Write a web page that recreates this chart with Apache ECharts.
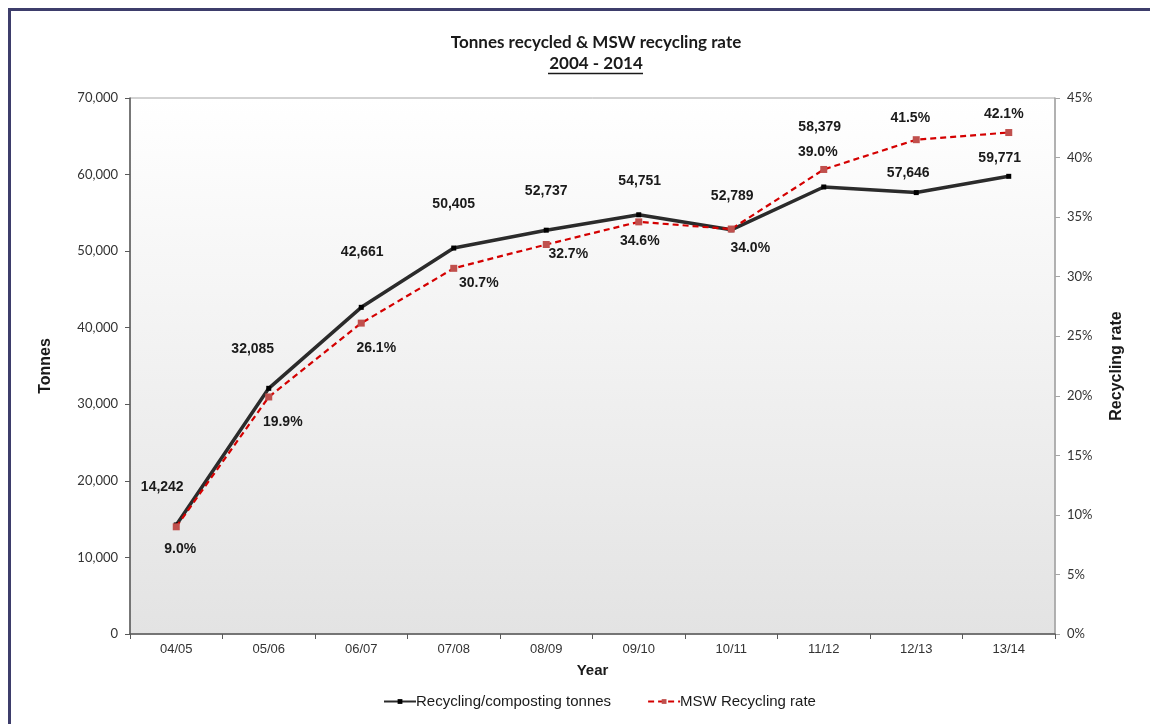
<!DOCTYPE html>
<html>
<head>
<meta charset="utf-8">
<script src="https://cdn.jsdelivr.net/npm/echarts@6/dist/echarts.min.js"></script>
<style>
  html, body { margin: 0; padding: 0; background: #ffffff; overflow: hidden; }
  #frame { position: absolute; left: 8px; top: 8px; width: 1160px; height: 740px; border: 3px solid #3d3d6b; box-sizing: border-box; }
  #chart { position: absolute; left: 0; top: 0; width: 1150px; height: 724px; }
</style>
</head>
<body>
<div id="frame"></div>
<div id="chart"></div>
<script>
// ---- Data ----
const years = ['04/05', '05/06', '06/07', '07/08', '08/09', '09/10', '10/11', '11/12', '12/13', '13/14'];
const tonnes = [14242, 32085, 42661, 50405, 52737, 54751, 52789, 58379, 57646, 59771];
const recyclingRate = [9.0, 19.9, 26.1, 30.7, 32.7, 34.6, 34.0, 39.0, 41.5, 42.1];

// label placement (styling, pixels relative to point)
const tonneLabelOffsets = [[-14,-38],[-16,-39],[1,-55],[0,-44],[0,-39],[1,-34],[1,-34],[-4,-60],[-8,-19],[-9,-18]];
const rateLabelOffsets = [[4,22],[14,25],[15,25],[25,15],[22,10],[1,19],[19,19],[-6,-17],[-6,-22],[-5,-18]];

const chart = echarts.init(document.getElementById('chart'), null, { renderer: 'canvas' });

const labelFont = { fontFamily: 'Liberation Sans, Arial', fontWeight: 'bold', fontSize: 14, color: '#1a1a1a' };

const tonneData = tonnes.map((v, i) => ({
  value: v,
  label: Object.assign({ show: true, position: 'inside', align: 'center', verticalAlign: 'middle',
    offset: tonneLabelOffsets[i], formatter: p => p.value.toLocaleString('en-US') }, labelFont)
}));
const rateData = recyclingRate.map((v, i) => ({
  value: v,
  label: Object.assign({ show: true, position: 'inside', align: 'center', verticalAlign: 'middle',
    offset: rateLabelOffsets[i], formatter: p => p.value.toFixed(1) + '%' }, labelFont)
}));

const option = {
  animation: false,
  backgroundColor: 'transparent',
  textStyle: { fontFamily: 'Lato, Open Sans, sans-serif' },
  title: {
    text: 'Tonnes recycled & MSW recycling rate\n2004 - 2014',
    left: 591,
    top: 27,
    textAlign: 'center',
    textStyle: { fontFamily: 'Lato', fontWeight: 'bold', fontSize: 17, lineHeight: 21, color: '#1a1a1a' }
  },
  graphic: [{
    type: 'line', shape: { x1: 548, y1: 73.5, x2: 643, y2: 73.5 },
    style: { stroke: '#1a1a1a', lineWidth: 1.5 }, z: 100
  }],
  legend: {
    top: 689,
    left: 378,
    itemWidth: 32,
    itemHeight: 6,
    itemGap: 36,
    textStyle: { fontFamily: 'Liberation Sans, Arial', fontSize: 15, color: '#1a1a1a', padding: [0, 0, 0, -5] },
    data: ['Recycling/composting tonnes', 'MSW Recycling rate']
  },
  grid: {
    left: 130, right: 95, top: 98, bottom: 90,
    show: true,
    borderColor: '#a6a6a6',
    borderWidth: 1,
    backgroundColor: new echarts.graphic.LinearGradient(0, 0, 0, 1, [
      { offset: 0, color: '#ffffff' },
      { offset: 1, color: '#e3e3e3' }
    ])
  },
  xAxis: {
    type: 'category',
    data: years,
    boundaryGap: true,
    name: 'Year',
    nameLocation: 'middle',
    nameGap: 29,
    nameTextStyle: { fontFamily: 'Liberation Sans, Arial', fontWeight: 'bold', fontSize: 15, color: '#1a1a1a' },
    axisLine: { lineStyle: { color: '#595959', width: 1.5 } },
    axisTick: { show: true, length: 5, lineStyle: { color: '#595959' } },
    axisLabel: { fontFamily: 'Liberation Sans, Arial', fontSize: 13, color: '#333333', margin: 9 }
  },
  yAxis: [{
    type: 'value',
    min: 0, max: 70000, interval: 10000,
    name: 'Tonnes',
    nameLocation: 'middle',
    nameGap: 76,
    nameTextStyle: { fontFamily: 'Liberation Sans, Arial', fontWeight: 'bold', fontSize: 16, color: '#1a1a1a' },
    axisLine: { show: true, lineStyle: { color: '#595959', width: 1.5 } },
    axisTick: { show: true, length: 5, lineStyle: { color: '#595959' } },
    splitLine: { show: false },
    axisLabel: { fontFamily: 'Lato', fontSize: 13, color: '#333333', margin: 12,
      formatter: v => v.toLocaleString('en-US') }
  }, {
    type: 'value',
    min: 0, max: 45, interval: 5,
    name: 'Recycling rate',
    nameLocation: 'middle',
    nameGap: 54,
    nameTextStyle: { fontFamily: 'Liberation Sans, Arial', fontWeight: 'bold', fontSize: 16, color: '#1a1a1a' },
    axisLine: { show: true, lineStyle: { color: '#a6a6a6', width: 1.5 } },
    axisTick: { show: true, length: 5, lineStyle: { color: '#a6a6a6' } },
    splitLine: { show: false },
    axisLabel: { fontFamily: 'Lato', fontSize: 13, color: '#333333', margin: 12, formatter: v => v + '%' }
  }],
  series: [{
    name: 'Recycling/composting tonnes',
    type: 'line',
    yAxisIndex: 0,
    data: tonneData,
    symbol: 'rect',
    symbolSize: 5,
    itemStyle: { color: '#000000' },
    lineStyle: { color: '#2b2b2b', width: 3.5 },
    z: 3
  }, {
    name: 'MSW Recycling rate',
    type: 'line',
    yAxisIndex: 1,
    data: rateData,
    symbol: 'rect',
    symbolSize: 7,
    itemStyle: { color: '#c0504d' },
    lineStyle: { color: '#d40000', width: 2.2, type: [6, 4] },
    z: 4
  }]
};
chart.setOption(option);
</script>
</body>
</html>
